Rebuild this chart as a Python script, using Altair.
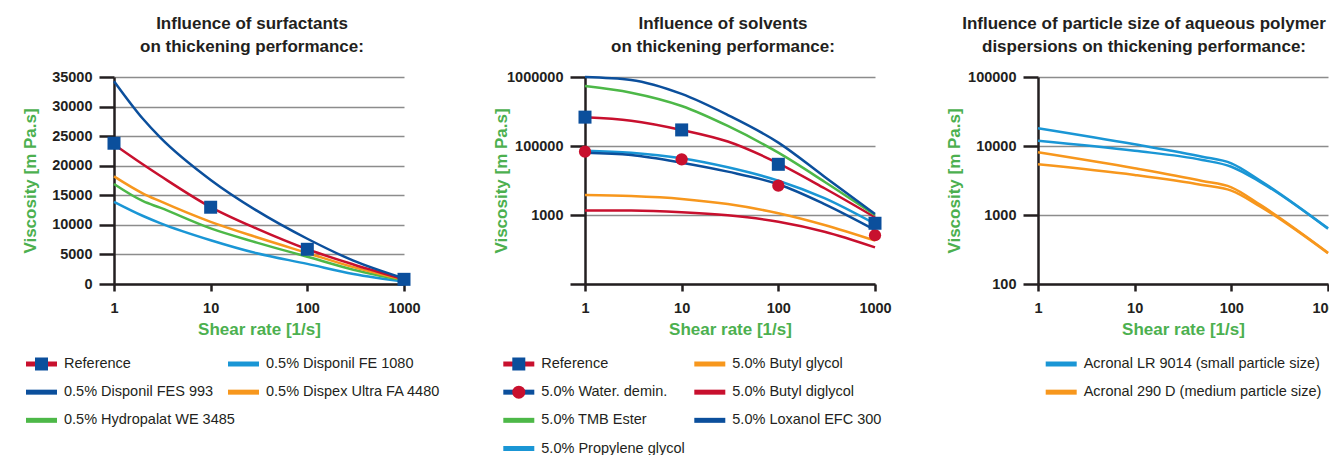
import altair as alt
import pandas as pd

FONT = "Liberation Sans"
INK = "#231f20"
AXIS_TITLE = "#4cb04f"
GRID = "#8c8c8c"
DBLUE = "#0b4f9c"
RED = "#c8102e"
GREEN = "#4db848"
LBLUE = "#1a96d5"
ORANGE = "#f7971d"

SHEAR_TICKS = [1, 10, 100, 1000]

# ---------------- Panel 1: surfactants (linear viscosity) ----------------
P1_X = [1, 2, 3, 10, 30, 100, 300, 1000]
P1_REFERENCE = [23600, 20200, 18300, 13000, 9350, 5870, 3300, 800]
P1_FE1080 = [13900, 11500, 10300, 7400, 5200, 3400, 1700, 400]
P1_FES993 = [34300, 27900, 24800, 17600, 12400, 7650, 3950, 950]
P1_DISPEX = [18200, 15300, 14000, 10500, 7900, 5250, 2850, 700]
P1_HYDRO = [16900, 14000, 12900, 9400, 7000, 4600, 2400, 600]
P1_MARK_X = [1, 10, 100, 1000]
P1_REF_MARKS = [23800, 12980, 5870, 790]

P1_NAMES = ["Reference", "0.5% Disponil FE 1080", "0.5% Disponil FES 993",
            "0.5% Dispex Ultra FA 4480", "0.5% Hydropalat WE 3485"]
P1_COLORS = [RED, LBLUE, DBLUE, ORANGE, GREEN]
P1_LEG_COL = [0, 1, 0, 1, 0]
P1_LEG_ROW = [0, 0, 1, 1, 2]
P1_LEG_MARK = ["square", "", "", "", ""]
P1_TICKS = [0, 5000, 10000, 15000, 20000, 25000, 30000, 35000]

# ---------------- Panel 2: solvents (log viscosity) ----------------
P2_X = [1, 3, 10, 30, 100, 300, 1000]
P2_REFERENCE = [261000, 233000, 171000, 116000, 56100, 24400, 9270]
P2_WATER = [80000, 74100, 57300, 42500, 27900, 14400, 6070]
P2_TMB = [741000, 593000, 380000, 195000, 80000, 30400, 10000]
P2_PROPYLENE = [85500, 80000, 66400, 49100, 31400, 17500, 7410]
P2_BUTYLGLYCOL = [19500, 18800, 17100, 14400, 10600, 7160, 4250]
P2_BUTYLDIGLYCOL = [11600, 11600, 11000, 9900, 8000, 5730, 3400]
P2_LOXANOL = [1000000, 906000, 568000, 281000, 112000, 35900, 10300]
P2_MARK_X = [1, 10, 100, 1000]
P2_REF_MARKS = [262000, 171000, 54300, 7590]
P2_WATER_MARKS = [82700, 64100, 26600, 5090]

P2_NAMES = ["Reference", "5.0% Butyl glycol", "5.0% Water. demin.", "5.0% Butyl diglycol",
            "5.0% TMB Ester", "5.0% Loxanol EFC 300", "5.0% Propylene glycol"]
P2_COLORS = [RED, ORANGE, DBLUE, RED, GREEN, DBLUE, LBLUE]
P2_LEG_COL = [0, 1, 0, 1, 0, 1, 0]
P2_LEG_ROW = [0, 0, 1, 1, 2, 2, 3]
P2_LEG_MARK = ["square", "", "circle", "", "", "", ""]
P2_TICKS = [1000, 10000, 100000, 1000000]
P2_LABELS = ["", "1000", "100000", "1000000"]

# ---------------- Panel 3: particle size (log viscosity) ----------------
P3_X = [1, 10, 50, 100, 200, 1000]
P3_LR9014_A = [18070, 10570, 7000, 5610, 3140, 641]
P3_LR9014_B = [11940, 8550, 6270, 5010, 3000, 630]
P3_290D_A = [8110, 4750, 3110, 2520, 1400, 284]
P3_290D_B = [5430, 3800, 2720, 2250, 1320, 279]

P3_NAMES = ["Acronal LR 9014 (small particle size)", "Acronal 290 D (medium particle size)"]
P3_COLORS = [LBLUE, ORANGE]
P3_LEG_COL = [0, 0]
P3_LEG_ROW = [0, 1]
P3_LEG_MARK = ["", ""]
P3_TICKS = [100, 1000, 10000, 100000]

# one shared colour mapping for every series name
ALL_NAMES, ALL_COLORS = [], []
for names, colors in [(P1_NAMES, P1_COLORS), (P2_NAMES, P2_COLORS), (P3_NAMES, P3_COLORS)]:
    for n, c in zip(names, colors):
        if n not in ALL_NAMES:
            ALL_NAMES.append(n)
            ALL_COLORS.append(c)
COLOR = alt.Color("series:N", scale=alt.Scale(domain=ALL_NAMES, range=ALL_COLORS), legend=None)


def curves_df(xs, items):
    rows = []
    for name, curve, vals in items:
        for x, v in zip(xs, vals):
            rows.append({"x": x, "v": v, "series": name, "curve": curve})
    return pd.DataFrame(rows)


def marks_df(xs, vals):
    return pd.DataFrame({"x": xs, "v": vals})


def legend_df(names, cols, rows, marks):
    return pd.DataFrame({"series": names, "col": cols, "row": rows, "marker": marks})


def panel(title, title_dx, curves, y_scale, y_axis, squares, circles, leg, leg_range, leg_width):
    x = alt.X("x:Q", scale=alt.Scale(type="log", domain=[1, 1000]),
              axis=alt.Axis(values=SHEAR_TICKS, format="d", title="Shear rate [1/s]"))
    y = alt.Y("v:Q", scale=y_scale, axis=y_axis)
    layers = [alt.Chart(curves).mark_line(interpolate="monotone", strokeWidth=2.5)
              .encode(x=x, y=y, color=COLOR, detail="curve:N")]
    if circles is not None:
        layers.append(alt.Chart(circles).mark_circle(size=150, color=RED, opacity=1).encode(x=x, y=y))
    if squares is not None:
        layers.append(alt.Chart(squares).mark_square(size=169, color=DBLUE, opacity=1).encode(x=x, y=y))
    plot = alt.layer(*layers).properties(
        width=290, height=207,
        title=alt.TitleParams(text=title, dx=title_dx),
    )

    lx = alt.X("col:Q", scale=alt.Scale(domain=[0, 1], range=leg_range), axis=None)
    ly = alt.Y("row:Q", scale=alt.Scale(domain=[0, 3], range=[12, 96.5]), axis=None)
    base = alt.Chart(leg)
    items = [
        base.mark_rule(strokeWidth=5, x2Offset=31).encode(x=lx, x2="col:Q", y=ly, color=COLOR),
        base.transform_filter("datum.marker == 'square'")
            .mark_square(size=169, color=DBLUE, opacity=1, xOffset=15.5).encode(x=lx, y=ly),
        base.transform_filter("datum.marker == 'circle'")
            .mark_circle(size=170, color=RED, opacity=1, xOffset=15.5).encode(x=lx, y=ly),
        base.mark_text(align="left", baseline="middle", dx=38, font=FONT, fontSize=14.5, color=INK)
            .encode(x=lx, y=ly, text="series:N"),
    ]
    legend = alt.layer(*items).properties(width=leg_width, height=100)
    return alt.vconcat(plot, legend, spacing=14)


p1 = panel(
    ["Influence of surfactants", "on thickening performance:"], -7,
    curves_df(P1_X, [("0.5% Disponil FE 1080", "a", P1_FE1080),
                     ("0.5% Hydropalat WE 3485", "a", P1_HYDRO),
                     ("0.5% Dispex Ultra FA 4480", "a", P1_DISPEX),
                     ("Reference", "a", P1_REFERENCE),
                     ("0.5% Disponil FES 993", "a", P1_FES993)]),
    alt.Scale(domain=[0, 35000], nice=False),
    alt.Axis(values=P1_TICKS, format="d", title="Viscosity [m Pa.s]"),
    marks_df(P1_MARK_X, P1_REF_MARKS), None,
    legend_df(P1_NAMES, P1_LEG_COL, P1_LEG_ROW, P1_LEG_MARK), [-88, 114], 338,
)

label_expr = " : ".join(
    f"datum.value == {t} ? '{l}'" for t, l in zip(P2_TICKS, P2_LABELS)
) + " : ''"

p2 = panel(
    ["Influence of solvents", "on thickening performance:"], -7,
    curves_df(P2_X, [("5.0% Butyl diglycol", "a", P2_BUTYLDIGLYCOL),
                     ("5.0% Butyl glycol", "a", P2_BUTYLGLYCOL),
                     ("5.0% Propylene glycol", "a", P2_PROPYLENE),
                     ("5.0% Water. demin.", "a", P2_WATER),
                     ("Reference", "a", P2_REFERENCE),
                     ("5.0% TMB Ester", "a", P2_TMB),
                     ("5.0% Loxanol EFC 300", "a", P2_LOXANOL)]),
    alt.Scale(type="log", domain=[1000, 1000000]),
    alt.Axis(values=P2_TICKS, labelExpr=label_expr, title="Viscosity [m Pa.s]"),
    marks_df(P2_MARK_X, P2_REF_MARKS), marks_df(P2_MARK_X, P2_WATER_MARKS),
    legend_df(P2_NAMES, P2_LEG_COL, P2_LEG_ROW, P2_LEG_MARK), [-81.7, 109.3], 320,
)

p3 = panel(
    ["Influence of particle size of aqueous polymer", "dispersions on thickening performance:"], -39,
    curves_df(P3_X, [(P3_NAMES[1], "a", P3_290D_A),
                     (P3_NAMES[1], "b", P3_290D_B),
                     (P3_NAMES[0], "a", P3_LR9014_A),
                     (P3_NAMES[0], "b", P3_LR9014_B)]),
    alt.Scale(type="log", domain=[100, 100000]),
    alt.Axis(values=P3_TICKS, format="d", title="Viscosity [m Pa.s]"),
    None, None,
    legend_df(P3_NAMES, P3_LEG_COL, P3_LEG_ROW, P3_LEG_MARK), [7.7, 200], 290,
)

chart = (
    alt.hconcat(p1, p2, p3, spacing=40)
    .properties(padding={"left": 13, "top": 7, "right": -16, "bottom": 0})
    .configure(font=FONT)
    .configure_view(stroke=None)
    .configure_axis(
        labelFont=FONT, labelFontSize=14.5, labelFontWeight="bold", labelColor=INK,
        labelFlush=False, labelOverlap=False,
        domainColor=INK, domainWidth=2.5, tickColor=INK, tickWidth=2.5,
        titleFont=FONT, titleFontSize=17, titleFontWeight="bold", titleColor=AXIS_TITLE,
        gridColor=GRID, gridWidth=1.5,
    )
    .configure_axisX(grid=False, tickSize=7, labelPadding=10,
                     titleBaseline="alphabetic", titleY=50.7)
    .configure_axisY(grid=True, tickSize=15, labelPadding=7,
                     titleX=-74.5, titleY=103.5, titleAngle=270,
                     titleBaseline="bottom", titleAlign="center")
    .configure_title(font=FONT, fontSize=17, fontWeight="bold", color=INK,
                     anchor="middle", frame="group", lineHeight=23, offset=13)
)

chart.save("out.html", embed_options={"renderer": "svg", "actions": False})
